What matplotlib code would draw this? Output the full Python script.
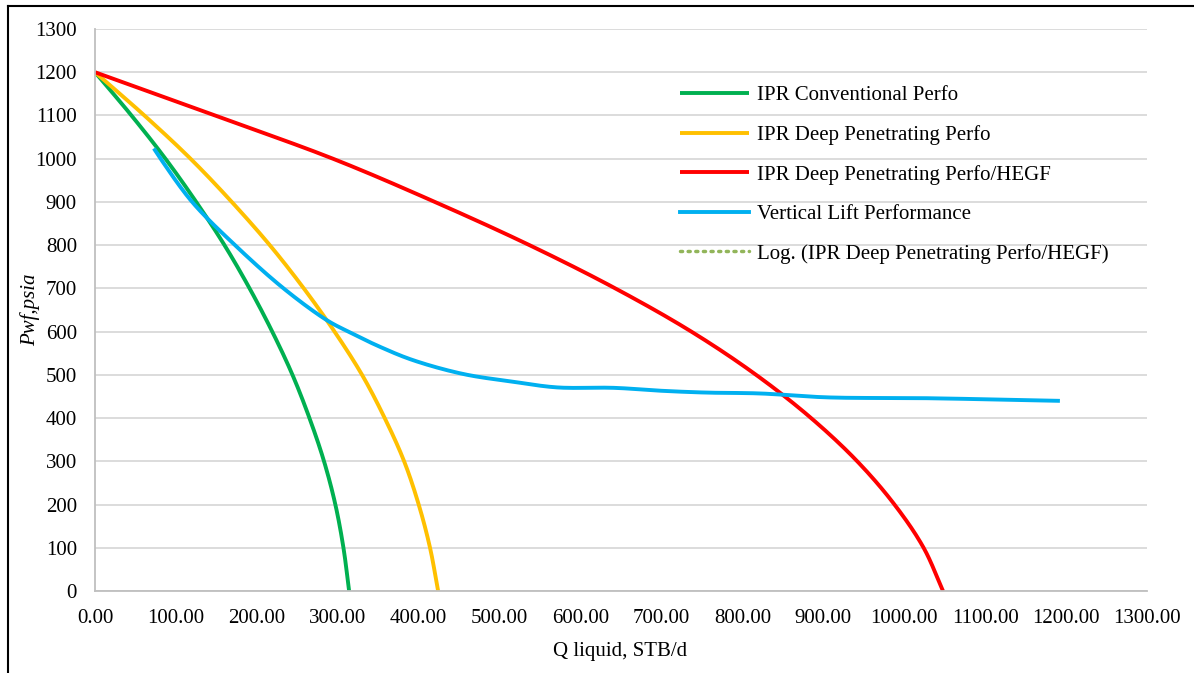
import matplotlib
matplotlib.use("Agg")
import numpy as np
import matplotlib.pyplot as plt
from matplotlib.lines import Line2D

plt.rcParams['font.family'] = ['Liberation Serif', 'DejaVu Serif']

# ---- data ----
pwf_levels = [1200, 1100, 1000, 900, 800, 700, 600, 500, 400, 300, 200, 100, 0]
q_conventional = [0, 45, 87, 125, 160, 191, 219, 244, 265, 283, 297, 307, 314]
q_deep = [0, 61, 118, 169, 216, 258, 296, 330, 358, 382, 400, 414, 424]
q_hegf = [0, 148, 294, 420, 537, 643, 737, 817, 885, 942, 988, 1024, 1048]

q_vlp = [74, 81, 120, 173, 233, 286, 313, 352, 393, 455, 517, 571, 641, 702, 756, 822, 904, 1028, 1190]
p_vlp = [1020, 1000, 900, 800, 700, 627, 600, 565, 534, 502, 484, 471, 470, 463, 459, 457, 448, 446, 440]

x_ticks = list(range(0, 1301, 100))
y_ticks = list(range(0, 1301, 100))

labels = ["IPR Conventional Perfo", "IPR Deep Penetrating Perfo",
          "IPR Deep Penetrating Perfo/HEGF", "Vertical Lift Performance",
          "Log. (IPR Deep Penetrating Perfo/HEGF)"]
colors = ["#00B050", "#FFC000", "#FF0000", "#00B0F0", "#92B55A"]


def smooth_path(x, y, n=24, alpha=0.5):
    """Centripetal Catmull-Rom rendering of a 'smoothed line' through the points
    (done in pixel-like scaled space so both axes weigh equally)."""
    sx, sy = 1052 / 1300, 562 / 1300
    P = np.column_stack([np.asarray(x, float) * sx, np.asarray(y, float) * sy])
    P = np.vstack([2 * P[0] - P[1], P, 2 * P[-1] - P[-2]])
    out = []
    for i in range(1, len(P) - 2):
        p0, p1, p2, p3 = P[i - 1], P[i], P[i + 1], P[i + 2]
        t0 = 0.0
        t1 = t0 + np.linalg.norm(p1 - p0) ** alpha + 1e-9
        t2 = t1 + np.linalg.norm(p2 - p1) ** alpha + 1e-9
        t3 = t2 + np.linalg.norm(p3 - p2) ** alpha + 1e-9
        t = np.linspace(t1, t2, n, endpoint=False)[:, None]
        a1 = (t1 - t) / (t1 - t0) * p0 + (t - t0) / (t1 - t0) * p1
        a2 = (t2 - t) / (t2 - t1) * p1 + (t - t1) / (t2 - t1) * p2
        a3 = (t3 - t) / (t3 - t2) * p2 + (t - t2) / (t3 - t2) * p3
        b1 = (t2 - t) / (t2 - t0) * a1 + (t - t0) / (t2 - t0) * a2
        b2 = (t3 - t) / (t3 - t1) * a2 + (t - t1) / (t3 - t1) * a3
        c = (t2 - t) / (t2 - t1) * b1 + (t - t1) / (t2 - t1) * b2
        out.append(c)
    out.append(P[-2][None, :])
    C = np.vstack(out)
    return C[:, 0] / sx, C[:, 1] / sy


fig = plt.figure(figsize=(11.94, 6.73), dpi=100)
ax = fig.add_axes([0.0796, 0.1218, 0.8810, 0.8351])

lw = 2.8
for q, lab, c in ((q_conventional, labels[0], colors[0]),
                  (q_deep, labels[1], colors[1]),
                  (q_hegf, labels[2], colors[2])):
    sx_, sy_ = smooth_path(q, pwf_levels)
    ax.plot(sx_, sy_, color=c, lw=lw, label=lab, solid_capstyle='butt')
sx_, sy_ = smooth_path(q_vlp, p_vlp)
ax.plot(sx_, sy_, color=colors[3], lw=lw, label=labels[3])
ax.plot([], [], color=colors[4], lw=2.5, ls=(0, (0.6, 1.6)), dash_capstyle='round', label=labels[4])

ax.set_xlim(0, 1300)
ax.set_ylim(0, 1300)
ax.set_xticks(x_ticks)
ax.set_xticklabels([f"{v:.2f}" for v in x_ticks])
ax.set_yticks(y_ticks)
ax.set_yticklabels([str(v) for v in y_ticks])
ax.tick_params(axis='both', length=0, labelsize=15, colors='#000000')
ax.tick_params(axis='y', pad=13)
ax.tick_params(axis='x', pad=13)

ax.yaxis.grid(True, color='#D9D9D9', lw=1.3)
ax.xaxis.grid(False)
ax.set_axisbelow(True)
for s in ['top', 'right']:
    ax.spines[s].set_visible(False)
for s in ['left', 'bottom']:
    ax.spines[s].set_color('#BFBFBF')
    ax.spines[s].set_linewidth(1.3)

ax.set_xlabel("Q liquid, STB/d", fontsize=15)
ax.xaxis.set_label_coords((620 - 95) / 1052, -(651 - 591) / 562, transform=ax.transAxes)
ax.xaxis.label.set_va('center')
ax.set_ylabel("Pwf,psia", fontsize=15, fontstyle='italic')
ax.yaxis.set_label_coords((30 - 95) / 1052, (591 - 310) / 562, transform=ax.transAxes)
ax.yaxis.label.set_va('center')

leg = ax.legend(loc='upper left', bbox_to_anchor=(0.5485, 0.914), frameon=False,
                fontsize=15, handlelength=3.3, handletextpad=0.4, labelspacing=0.95,
                borderaxespad=0)

# figure border (left and top)
fig.add_artist(Line2D([8/1194, 8/1194], [0, 1-6/673], transform=fig.transFigure, color='black', lw=1.5))
fig.add_artist(Line2D([8/1194, 1], [1-6/673, 1-6/673], transform=fig.transFigure, color='black', lw=1.5))

fig.savefig("out.png", dpi=100)
